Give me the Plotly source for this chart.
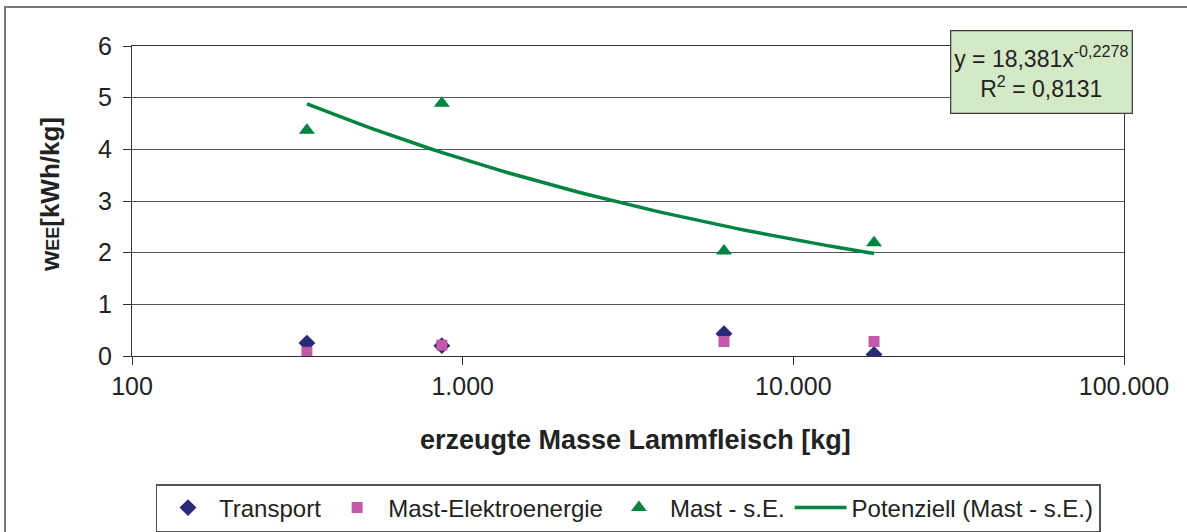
import numpy as np
import plotly.graph_objects as go

# ---- data ----
masse = [338, 865, 6170, 17540]           # erzeugte Masse Lammfleisch [kg]
transport = [0.25, 0.20, 0.43, 0.03]
mast_elektro = [0.07, 0.21, 0.28, 0.28]
mast_se = [4.37, 4.89, 2.03, 2.19]

# trendline coefficients as printed on the chart (y = a * x^b)
trend_a = 18.381
trend_b = -0.2278
r2 = 0.8131

x_tickvals = [100, 1000, 10000, 100000]
x_ticktext = ["100", "1.000", "10.000", "100.000"]
y_tickvals = [0, 1, 2, 3, 4, 5, 6]

FONT = "Liberation Sans, Arial, sans-serif"
W, H = 1187, 532
L, R, T, B = 132, 1124, 46, 356  # plot area pixels


def px(x):
    return (x - L) / (R - L)


def py(y):
    return (B - y) / (B - T)


trend_x = np.geomspace(min(masse), max(masse), 60)
trend_y = trend_a * trend_x ** trend_b

fig = go.Figure()
fig.add_trace(go.Scatter(x=masse, y=transport, mode="markers", name="Transport",
                         marker=dict(symbol="diamond", size=13, color="#2b2a78")))
fig.add_trace(go.Scatter(x=masse, y=mast_elektro, mode="markers", name="Mast-Elektroenergie",
                         marker=dict(symbol="square", size=11, color="#c15aa8")))
fig.add_trace(go.Scatter(x=masse, y=mast_se, mode="markers", name="Mast - s.E.",
                         marker=dict(symbol="triangle-up", size=14, color="#00843f")))
fig.add_trace(go.Scatter(x=trend_x, y=trend_y, mode="lines", name="Potenziell (Mast - s.E.)",
                         line=dict(color="#00843f", width=3.5)))

fig.update_layout(
    width=W, height=H,
    margin=dict(l=L, r=W - R, t=T, b=H - B, autoexpand=False),
    paper_bgcolor="white", plot_bgcolor="white",
    font=dict(family=FONT, size=25, color="#222"),
    showlegend=True,
    legend=dict(orientation="h", x=0.5, xanchor="center", y=py(484), yanchor="top",
                font=dict(size=24, family=FONT, color="#222"),
                bordercolor="#555", borderwidth=1.5, bgcolor="white",
                itemwidth=52, tracegroupgap=0),
)

fig.update_xaxes(type="log", range=[2, 5], tickvals=x_tickvals, ticktext=x_ticktext,
                 showgrid=False, showline=True, linecolor="#333", linewidth=1.3,
                 mirror=True, ticks="outside", ticklen=8, tickcolor="#333",
                 ticklabelstandoff=0,
                 tickfont=dict(size=25, family=FONT, color="#222"), zeroline=False)
fig.update_yaxes(range=[0, 6], tickvals=y_tickvals, showgrid=True, gridcolor="#555",
                 gridwidth=1.2, showline=True, linecolor="#333", linewidth=1.3,
                 mirror=True, ticks="outside", ticklen=8, tickcolor="#333",
                 ticklabelstandoff=6,
                 tickfont=dict(size=25, family=FONT, color="#222"), zeroline=False)

# axis titles
fig.add_annotation(xref="paper", yref="paper", x=px(50), y=py(195), textangle=-90,
                   xanchor="center", yanchor="middle", showarrow=False,
                   text="<b>w<span style='font-size:18px'>EE</span>[kWh/kg]</b>",
                   font=dict(size=26, family=FONT, color="#222"))
fig.add_annotation(xref="paper", yref="paper", x=px(635), y=py(440),
                   xanchor="center", yanchor="middle", showarrow=False,
                   text="<b>erzeugte Masse Lammfleisch [kg]</b>",
                   font=dict(size=27, family=FONT, color="#222"))

# trendline equation box
fig.add_annotation(xref="paper", yref="paper", x=px(1041.5), y=py(72.5),
                   xanchor="center", yanchor="middle", showarrow=False,
                   text=f"y = {str(trend_a).replace('.', ',')}x<sup>{str(trend_b).replace('.', ',')}</sup>"
                        f"<br>R<sup>2</sup> = {str(r2).replace('.', ',')}",
                   align="center", width=178, height=79, borderpad=1,
                   bgcolor="#d4e9c6", bordercolor="#444", borderwidth=1.3,
                   font=dict(size=23, family=FONT, color="#222"))

# outer chart frame
fig.add_shape(type="rect", xref="paper", yref="paper",
              x0=px(5), x1=px(1200), y0=py(545), y1=py(7),
              line=dict(color="#777", width=2), fillcolor="rgba(0,0,0,0)", layer="below")

fig.write_html("out.html", config={"displayModeBar": False},
               post_script="document.body.style.margin='0';document.body.style.overflow='hidden';")
